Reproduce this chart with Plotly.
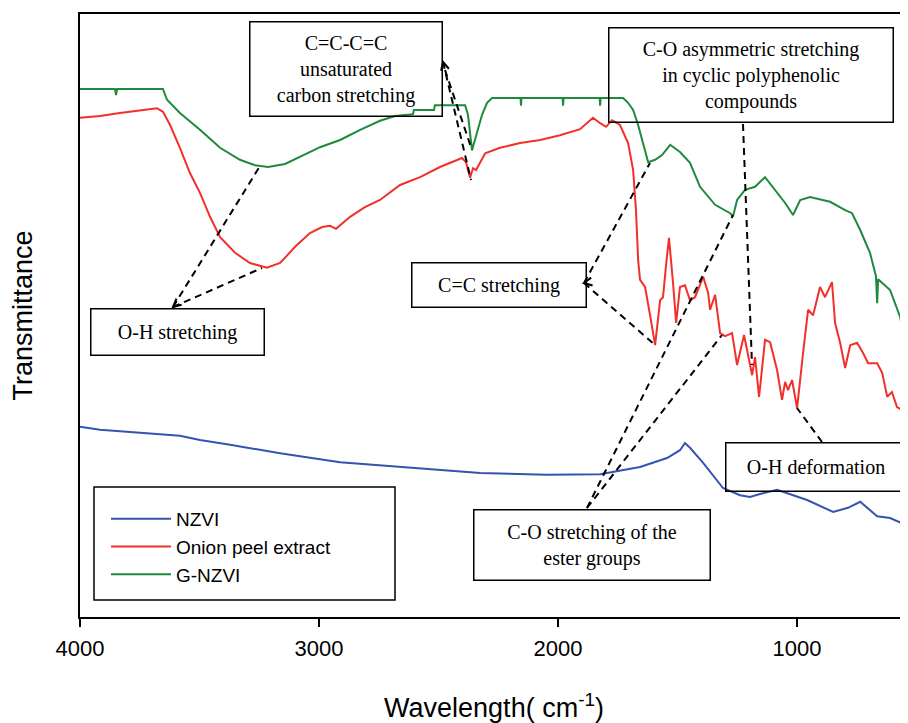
import math
import plotly.graph_objects as go

# ---------------- data ----------------
series_names = ["NZVI", "Onion peel extract", "G-NZVI"]
x_ticks = [4000, 3000, 2000, 1000]

nzvi_wn = [4000, 3916, 3582, 3498, 3372, 3163, 2912, 2607, 2326, 2046, 1824, 1657,
           1544, 1490, 1469, 1448, 1393, 1310, 1239, 1197, 1155, 1084, 1029, 958,
           849, 787, 736, 695, 665, 611, 536]
nzvi_t = [31.7, 31.2, 30.2, 29.5, 28.7, 27.3, 25.8, 24.8, 24.0, 23.7, 23.8, 25.0,
          26.5, 27.8, 29.0, 28.2, 25.7, 21.5, 20.3, 20.0, 20.5, 21.2, 20.5, 19.5,
          17.5, 18.2, 19.2, 17.8, 16.8, 16.5, 15.2]

onion_wn = [4000, 3916, 3833, 3749, 3678, 3653, 3623, 3582, 3540, 3498, 3456, 3414,
            3351, 3289, 3218, 3163, 3100, 3038, 2987, 2954, 2929, 2870, 2808, 2745,
            2661, 2577, 2494, 2402, 2385, 2368, 2356, 2343, 2305, 2243, 2159, 2075,
            1992, 1908, 1854, 1824, 1799, 1774, 1741, 1707, 1686, 1674, 1665, 1657,
            1636, 1615, 1594, 1573, 1561, 1548, 1536, 1519, 1506, 1490, 1469, 1448,
            1427, 1393, 1372, 1364, 1343, 1322, 1301, 1272, 1251, 1222, 1188, 1176,
            1159, 1134, 1113, 1084, 1063, 1050, 1038, 1021, 1000, 975, 954, 933,
            904, 883, 854, 841, 820, 799, 778, 749, 724, 703, 665, 644, 623, 603,
            582, 548, 536]
onion_t = [83.2, 83.5, 84.0, 84.5, 84.8, 84.2, 82.0, 78.2, 74.0, 70.7, 66.7, 63.3,
           60.7, 59.0, 58.2, 59.0, 61.7, 64.0, 65.0, 65.2, 64.7, 66.7, 68.3, 69.5,
           72.0, 73.3, 75.0, 76.5, 75.8, 73.2, 74.8, 74.5, 77.3, 78.2, 79.0, 79.5,
           80.3, 81.3, 83.2, 82.3, 81.7, 82.8, 82.0, 79.0, 74.5, 67.8, 59.5, 56.2,
           55.0, 50.3, 45.3, 52.8, 53.3, 58.7, 63.2, 55.7, 49.0, 55.0, 55.3, 52.8,
           53.3, 56.7, 54.0, 51.2, 53.7, 47.3, 46.8, 47.3, 42.0, 47.0, 40.3, 43.3,
           36.7, 46.2, 45.8, 41.2, 36.2, 39.2, 37.8, 39.5, 34.8, 44.0, 51.2, 50.3,
           55.0, 53.3, 55.8, 49.0, 45.7, 41.5, 45.3, 45.7, 44.0, 42.3, 42.3, 40.7,
           36.7, 37.5, 35.0, 34.2, 34.0]

gnzvi_wn = [4000, 3854, 3849, 3845, 3653, 3636, 3582, 3498, 3414, 3331, 3268, 3213,
            3142, 3080, 2996, 2912, 2828, 2745, 2682, 2607, 2603, 2519, 2515, 2389,
            2377, 2360, 2347, 2335, 2318, 2297, 2276, 2157, 2155, 2153, 1981, 1979,
            1977, 1826, 1824, 1822, 1728, 1707, 1686, 1665, 1644, 1623, 1594, 1565,
            1531, 1490, 1448, 1406, 1343, 1280, 1268, 1251, 1218, 1176, 1134, 1092,
            1050, 1017, 987, 946, 862, 799, 770, 736, 695, 670, 665, 661, 611, 569,
            536]
gnzvi_t = [88.0, 88.0, 87.0, 88.0, 88.0, 86.2, 84.0, 81.2, 78.2, 76.2, 75.3, 75.0,
           75.5, 76.7, 78.3, 79.5, 81.2, 82.7, 83.5, 83.8, 84.5, 84.5, 85.3, 85.3,
           83.7, 77.8, 79.5, 81.2, 83.7, 85.7, 86.5, 86.5, 85.2, 86.5, 86.5, 85.2,
           86.5, 86.5, 85.2, 86.5, 86.5, 85.7, 84.5, 82.0, 78.7, 75.8, 76.2, 77.0,
           78.7, 77.5, 75.7, 71.7, 68.7, 67.3, 66.8, 69.5, 71.2, 71.7, 73.3, 71.2,
           69.0, 67.0, 69.5, 70.0, 69.2, 67.8, 67.3, 64.5, 60.7, 56.8, 52.3, 56.3,
           54.5, 50.0, 42.8]

# ---------------- layout helpers ----------------
W, H = 908, 723
OFF = 8                      # page body margin in the browser
PL, PT, PW, PH = 80, 14, 828, 603   # plot area on screen
X_RANGE = [4000, 536]
Y_RANGE = [0, 100.5]


def px(xpix):  # screen pixel -> paper x
    return (xpix - PL) / PW


def py(ypix):  # screen pixel -> paper y
    return (PT + PH - ypix) / PH


colors = ["#3553B0", "#F2302B", "#1F8A3D"]
fig = go.Figure()
for name, xs, ys, c in zip(series_names, [nzvi_wn, onion_wn, gnzvi_wn],
                           [nzvi_t, onion_t, gnzvi_t], colors):
    fig.add_trace(go.Scatter(x=xs, y=ys, mode="lines", name=name,
                             line=dict(color=c, width=2)))

serif = "Liberation Serif, Times New Roman, serif"
sans = "Liberation Sans, Arial, sans-serif"

boxes = [
    ("C=C-C=C<br>unsaturated<br>carbon stretching", 249, 21, 443, 117),
    ("C-O asymmetric stretching<br>in cyclic polyphenolic<br>compounds", 608, 27, 894, 123),
    ("O-H stretching", 90, 308, 265, 356),
    ("C=C stretching", 411, 262, 587, 308),
    ("C-O stretching of the<br>ester groups", 473, 509, 711, 581),
    ("O-H deformation", 725, 442, 907, 492),
]
annotations = []
for text, x0, y0, x1, y1 in boxes:
    annotations.append(dict(
        text=text, xref="paper", yref="paper",
        x=px((x0 + x1) / 2), y=py((y0 + y1) / 2), xanchor="center", yanchor="middle",
        width=x1 - x0 - 3, height=y1 - y0 - 3, showarrow=False,
        bordercolor="black", borderwidth=1.5, borderpad=0,
        font=dict(family=serif, size=20, color="black"), align="center", valign="middle"))

shapes = []
dashed = [
    (173, 307, 260, 166), (173, 307, 262, 268),
    (443, 62, 471, 180), (445, 70, 472, 150),
    (584, 283, 650, 163), (584, 283, 655, 345),
    (743, 124, 752, 365),
    (587, 508, 733, 215), (587, 508, 722, 335),
    (822, 442, 797, 408),
]
for x0, y0, x1, y1 in dashed:
    shapes.append(dict(type="line", xref="paper", yref="paper",
                       x0=px(x0), y0=py(y0), x1=px(x1), y1=py(y1),
                       line=dict(color="black", width=2, dash="7px,5px")))

# small open arrow heads at the label boxes (tip, tail direction)
for tx, ty, dx, dy in [(173, 307, 0.755, -0.655), (584, 283, 0.985, -0.175),
                       (443, 62, 0.25, 0.97)]:
    n = math.hypot(dx, dy)
    dx, dy = dx / n, dy / n
    bx, by = tx + 8 * dx, ty + 8 * dy
    w1 = (bx - 4 * dy, by + 4 * dx)
    w2 = (bx + 4 * dy, by - 4 * dx)
    path = "M {:.5f} {:.5f} L {:.5f} {:.5f} L {:.5f} {:.5f}".format(
        px(w1[0]), py(w1[1]), px(tx), py(ty), px(w2[0]), py(w2[1]))
    shapes.append(dict(type="path", xref="paper", yref="paper", path=path,
                       line=dict(color="black", width=2)))

# legend frame
shapes.append(dict(type="rect", xref="paper", yref="paper",
                   x0=px(94), y0=py(600), x1=px(395), y1=py(487),
                   line=dict(color="black", width=1.5)))

fig.update_layout(
    width=W, height=H,
    margin=dict(l=PL - OFF, r=W - (PL - OFF) - PW, t=PT - OFF, b=H - (PT - OFF) - PH,
                autoexpand=False),
    plot_bgcolor="white", paper_bgcolor="white",
    font=dict(family=sans, color="black"),
    showlegend=True,
    legend=dict(x=px(106), y=py(500), xanchor="left", yanchor="top",
                bgcolor="rgba(0,0,0,0)", borderwidth=0, itemwidth=60,
                font=dict(family=sans, size=19, color="black"), tracegroupgap=0),
    xaxis=dict(range=X_RANGE, tickvals=x_ticks, ticks="outside", ticklen=8,
               tickwidth=1.5, tickcolor="black", showline=True, linecolor="black",
               linewidth=1.5, mirror=True, showgrid=False, zeroline=False,
               ticklabelstandoff=3,
               tickfont=dict(family=sans, size=22, color="black"), automargin=False,
               title=dict(text="Wavelength( cm<sup>-1</sup>)", standoff=38,
                          font=dict(family=sans, size=27, color="black"))),
    yaxis=dict(range=Y_RANGE, showticklabels=False, ticks="", showline=True,
               linecolor="black", linewidth=1.5, showgrid=False, zeroline=False,
               automargin=False,
               title=dict(text="Transmittance", standoff=40,
                          font=dict(family=sans, size=27, color="black"))),
    annotations=annotations, shapes=shapes,
)

fig.write_html("out.html")
